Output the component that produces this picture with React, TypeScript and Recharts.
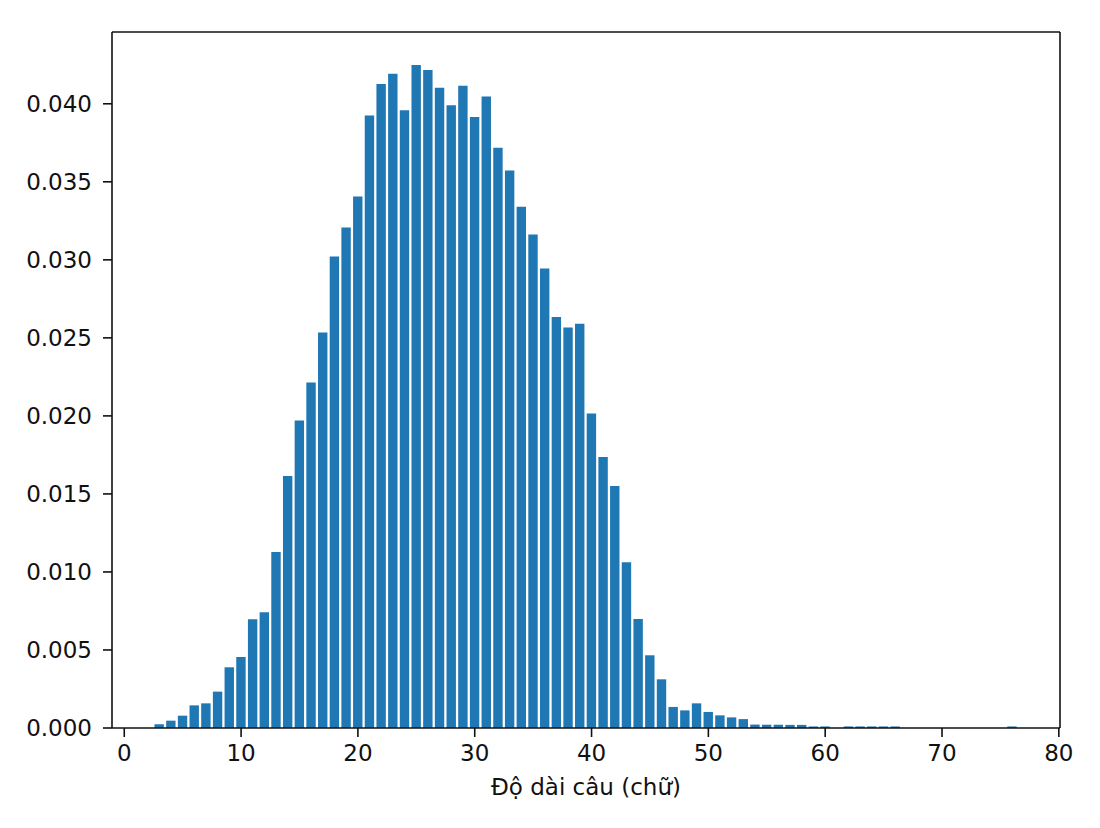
import React from "react";
import { ComposedChart, Bar, XAxis, YAxis, ReferenceLine } from "recharts";

// Sentence length (words) and relative frequency
const lengths: number[] = [
  3, 4, 5, 6, 7, 8, 9, 10, 11, 12, 13, 14, 15, 16, 17, 18, 19, 20, 21, 22, 23, 24, 25, 26, 27, 28, 29,
  30, 31, 32, 33, 34, 35, 36, 37, 38, 39, 40, 41, 42, 43, 44, 45, 46, 47, 48, 49, 50, 51, 52, 53, 54,
  55, 56, 57, 58, 59, 60, 61, 62, 63, 64, 65, 66, 67, 68, 69, 70, 71, 72, 73, 74, 75, 76,
];
const frequencies: number[] = [
  0.00024, 0.00047, 0.00079, 0.00145, 0.00158, 0.00233, 0.00389, 0.00455, 0.00697, 0.00742,
  0.01128, 0.01615, 0.0197, 0.02214, 0.02534, 0.03021, 0.03207, 0.03406, 0.03925, 0.04126,
  0.04192, 0.03959, 0.04248, 0.04216, 0.04103, 0.03991, 0.04115, 0.03915, 0.04047, 0.03718,
  0.03573, 0.0334, 0.03162, 0.02944, 0.02633, 0.02566, 0.0259, 0.02015, 0.01737, 0.01551,
  0.01062, 0.00699, 0.00466, 0.00312, 0.00135, 0.00113, 0.00158, 0.00103, 0.00081, 0.00068,
  0.00057, 0.00022, 0.00021, 0.00021, 0.0002, 0.0002, 0.0001, 0.0001, 0, 0.0001, 0.0001, 0.0001,
  0.0001, 0.0001, 0, 0, 0, 0, 0, 0, 0, 0, 0, 0.0001,
];
const xTicks: number[] = [0, 10, 20, 30, 40, 50, 60, 70, 80];
const yTicks: number[] = [0, 0.005, 0.01, 0.015, 0.02, 0.025, 0.03, 0.035, 0.04];
const xDomain: [number, number] = [-1.05, 80.1];
const yDomain: [number, number] = [0, 0.0446];
const xLabel = "Độ dài câu (chữ)";

const data = lengths.map((len, i) => ({ len, freq: frequencies[i] }));

const FONT = "DejaVu Sans";
const tickStyle = { fontSize: 23, fill: "#111", fontFamily: FONT };
const axisStroke = { stroke: "#111", strokeWidth: 1.6 };

export default function App() {
  return (
    <div style={{ width: 1092, height: 812, background: "#fff" }}>
      <ComposedChart
        width={1092}
        height={812}
        data={data}
        margin={{ top: 24, right: 40, bottom: 12, left: 0 }}
      >
        <XAxis
          dataKey="len"
          type="number"
          domain={xDomain}
          ticks={xTicks}
          allowDataOverflow
          height={80}
          tickSize={9}
          tickMargin={8}
          tick={tickStyle}
          axisLine={axisStroke}
          tickLine={axisStroke}
          label={{
            value: xLabel,
            position: "insideBottom",
            offset: 13,
            style: { fontSize: 23, fill: "#111", fontFamily: FONT, textAnchor: "middle" },
          }}
        />
        <YAxis
          type="number"
          domain={yDomain}
          ticks={yTicks}
          allowDataOverflow
          width={104}
          tickSize={9}
          tickMargin={11}
          tick={tickStyle}
          tickFormatter={(v: number) => v.toFixed(3)}
          axisLine={axisStroke}
          tickLine={axisStroke}
        />
        <Bar dataKey="freq" fill="#1f77b4" barSize={9.4} isAnimationActive={false} />
        <ReferenceLine y={yDomain[1]} stroke="#111" strokeWidth={1.6} ifOverflow="visible" />
        <ReferenceLine x={xDomain[1]} stroke="#111" strokeWidth={1.6} ifOverflow="visible" />
      </ComposedChart>
    </div>
  );
}
